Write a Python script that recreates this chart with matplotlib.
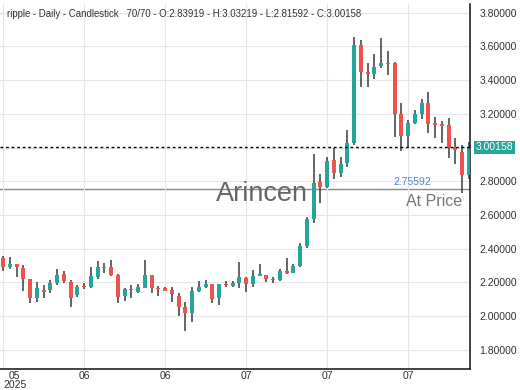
import matplotlib.pyplot as plt
import numpy as np

plt.rcParams["font.family"] = ["Liberation Sans", "DejaVu Sans"]

# daily OHLC for the last 70 sessions
opens = [2.344, 2.293, 2.309, 2.287, 2.218, 2.105, 2.153, 2.154, 2.194, 2.249,
         2.204, 2.125, 2.176, 2.174, 2.233, 2.293, 2.289, 2.243, 2.120, 2.158,
         2.144, 2.168, 2.243, 2.168, 2.164, 2.154, 2.121, 2.055, 2.016, 2.148,
         2.174, 2.190, 2.105, 2.188, 2.180, 2.194, 2.227, 2.188, 2.239, 2.243,
         2.220, 2.214, 2.267, 2.257, 2.298, 2.415, 2.574, 2.797, 2.767, 2.926,
         2.850, 2.906, 3.025, 3.608, 3.450, 3.436, 3.484, 3.504, 3.500, 3.199,
         3.068, 3.147, 3.199, 3.266, 3.144, 3.138, 3.133, 3.001, 2.975, 2.83919]
highs = [2.356, 2.348, 2.310, 2.303, 2.222, 2.200, 2.184, 2.214, 2.277, 2.267,
         2.214, 2.184, 2.194, 2.293, 2.326, 2.313, 2.332, 2.252, 2.168, 2.184,
         2.188, 2.332, 2.243, 2.178, 2.170, 2.174, 2.135, 2.081, 2.174, 2.208,
         2.214, 2.192, 2.190, 2.208, 2.210, 2.319, 2.229, 2.273, 2.309, 2.245,
         2.233, 2.279, 2.346, 2.310, 2.431, 2.585, 2.961, 2.843, 2.942, 2.995,
         2.945, 3.104, 3.658, 3.638, 3.500, 3.555, 3.648, 3.575, 3.510, 3.266,
         3.163, 3.220, 3.286, 3.331, 3.180, 3.159, 3.173, 3.055, 3.015, 3.03219]
lows = [2.267, 2.277, 2.229, 2.148, 2.079, 2.085, 2.105, 2.135, 2.184, 2.194,
        2.055, 2.115, 2.158, 2.168, 2.218, 2.257, 2.237, 2.078, 2.089, 2.109,
        2.135, 2.168, 2.138, 2.119, 2.146, 2.085, 2.002, 1.911, 1.963, 2.144,
        2.166, 2.075, 2.067, 2.174, 2.172, 2.164, 2.144, 2.170, 2.237, 2.204,
        2.198, 2.210, 2.247, 2.253, 2.293, 2.405, 2.550, 2.669, 2.758, 2.811,
        2.827, 2.886, 3.015, 3.361, 3.361, 3.405, 3.470, 3.430, 3.060, 2.981,
        3.005, 3.140, 3.167, 3.084, 3.055, 3.025, 2.936, 2.902, 2.732, 2.81592]
closes = [2.293, 2.307, 2.289, 2.218, 2.109, 2.164, 2.144, 2.194, 2.243, 2.208,
          2.105, 2.174, 2.170, 2.239, 2.289, 2.287, 2.243, 2.115, 2.158, 2.154,
          2.174, 2.243, 2.168, 2.160, 2.150, 2.129, 2.055, 2.016, 2.148, 2.174,
          2.190, 2.103, 2.188, 2.184, 2.198, 2.229, 2.188, 2.239, 2.247, 2.220,
          2.214, 2.267, 2.257, 2.298, 2.417, 2.574, 2.791, 2.764, 2.922, 2.850,
          2.902, 3.025, 3.608, 3.450, 3.438, 3.480, 3.500, 3.496, 3.199, 3.068,
          3.144, 3.199, 3.266, 3.140, 3.135, 3.129, 3.001, 2.985, 2.839, 3.00158]

tick_idx = [0, 12, 24, 36, 48, 60]
tick_labels = ["05\n2025", "06", "06", "07", "07", "07"]
price_ticks = [1.8, 2.0, 2.2, 2.4, 2.6, 2.8, 3.0, 3.2, 3.4, 3.6, 3.8]
at_price = 2.75592

up = "#26a69a"
down = "#ef5350"

fig = plt.figure(figsize=(5.2, 3.9), dpi=100)
ax = fig.add_axes([0.0, 0.0538, 0.9038, 0.9359])

x = np.arange(len(opens))
o = np.array(opens)
c = np.array(closes)
colors = [up if cc >= oo else down for oo, cc in zip(o, c)]

ax.vlines(x, lows, highs, color="#3a3a3a", lw=1.1, zorder=2)
body = np.maximum(np.abs(c - o), 0.005)
ax.bar(x, body, bottom=np.minimum(o, c), width=0.6, color=colors, zorder=3)

ax.set_xlim(-0.45, 69.15)
ax.set_ylim(1.685, 3.852)

last = closes[-1]
ax.set_yticks(price_ticks)
# the 3.00000 label sits under the last-price tag, so leave it blank
ax.set_yticklabels(["" if abs(p - last) < 0.05 else f"{p:.5f}" for p in price_ticks])
ax.yaxis.tick_right()
ax.set_xticks(tick_idx)
ax.set_xticklabels(tick_labels, linespacing=0.85)
ax.tick_params(axis="both", length=0, labelsize=7.5, colors="#333333")
ax.tick_params(axis="y", pad=7)
ax.tick_params(axis="x", pad=1.5)
first = ax.get_xticklabels()[0]
first.set_horizontalalignment("left")
first.set_multialignment("center")

ax.grid(True, color="#e6e6e6", lw=0.8, zorder=0)
for s in ["top", "left"]:
    ax.spines[s].set_visible(False)
for s in ["right", "bottom"]:
    ax.spines[s].set_color("#222222")
    ax.spines[s].set_linewidth(1.2)

# last close and "at price" lines
ax.axhline(last, color="black", lw=1, ls=(0, (2, 2)), zorder=4)
ax.axhline(at_price, color="#888888", lw=1, zorder=1)
ax.text(1.012, last, f"{last:.5f}", transform=ax.get_yaxis_transform(),
        ha="left", va="center", fontsize=7.5, color="white",
        bbox=dict(boxstyle="square,pad=0.15", fc=up, ec="none"))
ax.text(60.6, at_price + 0.01, f"{at_price:.5f}", ha="center", va="bottom",
        fontsize=7.5, color="#5b7fd0")
ax.text(68.0, at_price - 0.03, "At Price", ha="right", va="top",
        fontsize=11.5, color="#777777")
ax.text(38.3, at_price - 0.03, "Arincen", ha="center", va="center",
        fontsize=19.5, color="#666666", zorder=5)

ax.text(0.015, 0.985, "ripple - Daily - Candlestick   70/70 - O:2.83919 - H:3.03219"
        " - L:2.81592 - C:3.00158", transform=ax.transAxes, ha="left", va="top",
        fontsize=6.9, color="#333333")

fig.savefig("out.png", dpi=100)
